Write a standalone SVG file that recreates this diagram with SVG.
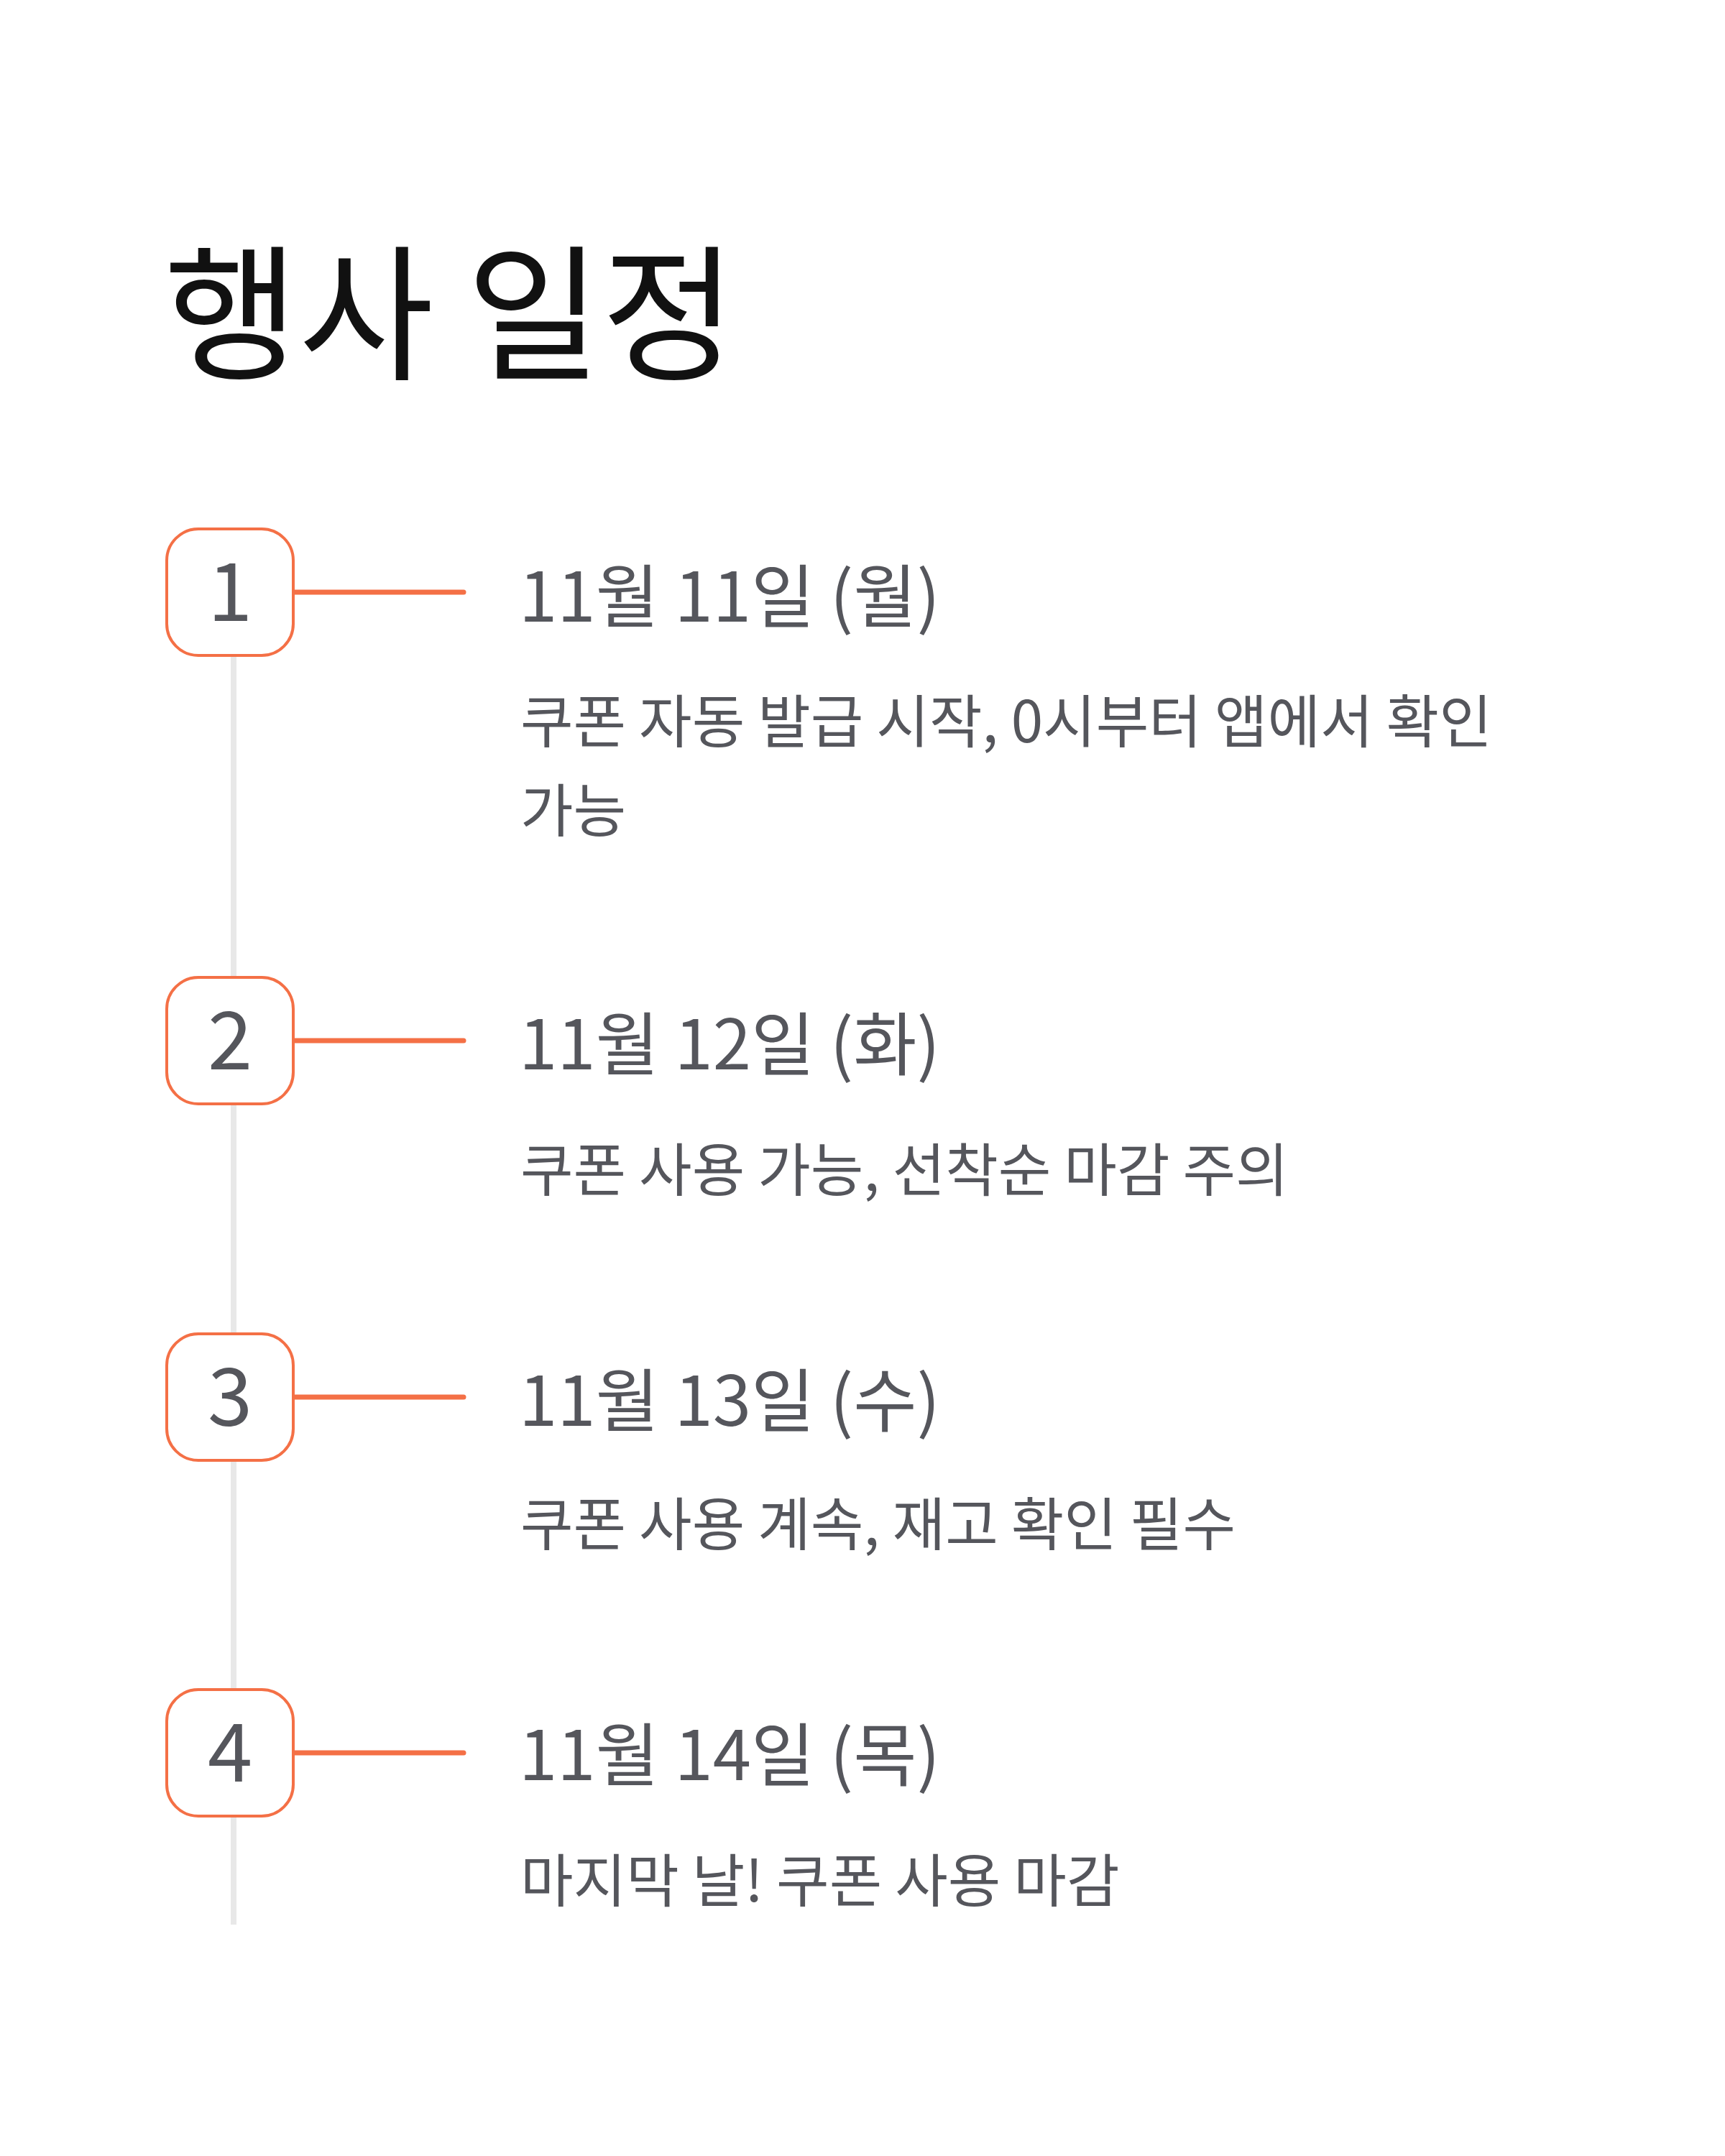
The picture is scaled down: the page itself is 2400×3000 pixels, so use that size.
<svg xmlns="http://www.w3.org/2000/svg" width="2400" height="3000" viewBox="0 0 2400 3000">
<style>
text{font-family:"Noto Sans CJK KR","Liberation Sans",sans-serif}
.t{font-size:204px;fill:#111}
.n{font-size:112px;fill:#55565c;text-anchor:middle}
.d{font-size:96px;fill:#55565c}
.s{font-size:80px;fill:#55565c}
.b{fill:#fff;stroke:#f47046;stroke-width:4}
.c{stroke:#f47046;stroke-width:7;stroke-linecap:round}
</style>
<rect width="2400" height="3000" fill="#fff"/>
<text class="t" x="228" y="513">행사 일정</text>
<g id="connectors">
<line x1="325" y1="912" x2="325" y2="2678" stroke="#e8e8e8" stroke-width="8"/>
<line class="c" x1="410" y1="824" x2="645" y2="824"/>
<line class="c" x1="410" y1="1448" x2="645" y2="1448"/>
<line class="c" x1="410" y1="1944" x2="645" y2="1944"/>
<line class="c" x1="410" y1="2439" x2="645" y2="2439"/>
</g>
<g id="n1"><rect class="b" x="232" y="736" width="176" height="176" rx="44"/><text class="n" x="320" y="864">1</text>
<text class="d" x="722" y="865">11월 11일 (월)</text>
<text class="s" x="724" y="1033">쿠폰 자동 발급 시작, 0시부터 앱에서 확인</text>
<text class="s" x="724" y="1157">가능</text></g>
<g id="n2"><rect class="b" x="232" y="1360" width="176" height="176" rx="44"/><text class="n" x="320" y="1488">2</text>
<text class="d" x="722" y="1488">11월 12일 (화)</text>
<text class="s" x="724" y="1657">쿠폰 사용 가능, 선착순 마감 주의</text></g>
<g id="n3"><rect class="b" x="232" y="1856" width="176" height="176" rx="44"/><text class="n" x="320" y="1984">3</text>
<text class="d" x="722" y="1984">11월 13일 (수)</text>
<text class="s" x="724" y="2150">쿠폰 사용 계속, 재고 확인 필수</text></g>
<g id="n4"><rect class="b" x="232" y="2351" width="176" height="176" rx="44"/><text class="n" x="320" y="2479">4</text>
<text class="d" x="722" y="2477">11월 14일 (목)</text>
<text class="s" x="724" y="2646">마지막 날! 쿠폰 사용 마감</text></g>
</svg>
